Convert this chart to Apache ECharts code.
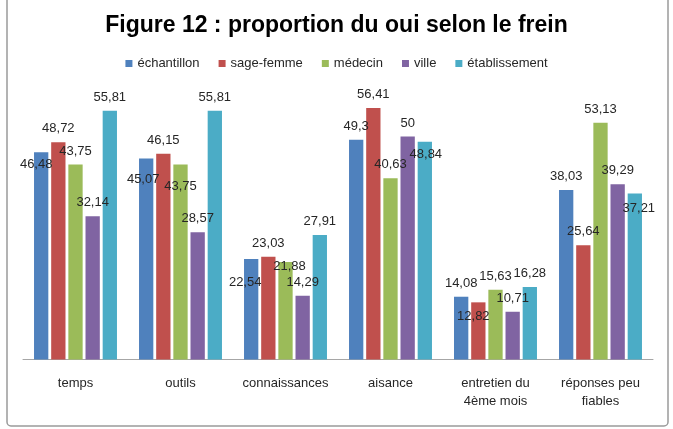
<!DOCTYPE html>
<html>
<head>
<meta charset="utf-8">
<script src="https://cdn.jsdelivr.net/npm/echarts@6/dist/echarts.min.js"></script>
<style>
html,body{margin:0;padding:0;background:#fff;}
#c{width:673px;height:429px;}
</style>
</head>
<body>
<div id="c"></div>
<script>
const categories = ['temps', 'outils', 'connaissances', 'aisance', 'entretien du\n4ème mois', 'réponses peu\nfiables'];
const seriesNames = ['échantillon', 'sage-femme', 'médecin', 'ville', 'établissement'];
const echantillon   = [46.48, 45.07, 22.54, 49.3, 14.08, 38.03];
const sageFemme     = [48.72, 46.15, 23.03, 56.41, 12.82, 25.64];
const medecin       = [43.75, 43.75, 21.88, 40.63, 15.63, 53.13];
const ville         = [32.14, 28.57, 14.29, 50, 10.71, 39.29];
const etablissement = [55.81, 55.81, 27.91, 48.84, 16.28, 37.21];
const seriesValues = [echantillon, sageFemme, medecin, ville, etablissement];

const colors = ['#4F81BD', '#C0504D', '#9BBB59', '#8064A2', '#4BACC6'];
// label nudges (series index, category index) -> [dx, dy] to mimic original label placement
const labelNudges = {
  '0-0': [-5, 26], '0-1': [-3, 34], '2-1': [0, 35], '0-2': [-6, 37],
  '2-2': [4, 18], '4-3': [1, 26], '1-4': [-5, 28], '4-5': [4, 28]
};

const fmt = v => String(v).replace('.', ',');

const series = seriesNames.map((name, si) => ({
  name: name,
  type: 'bar',
  barGap: '20%',
  barCategoryGap: '21%',
  itemStyle: { color: colors[si] },
  data: seriesValues[si].map((v, ci) => {
    const d = { value: v };
    const n = labelNudges[si + '-' + ci];
    if (n) d.label = { offset: n };
    return d;
  }),
  label: {
    show: true,
    position: 'top',
    distance: 7,
    fontFamily: 'Liberation Sans',
    fontSize: 13,
    color: '#262626',
    formatter: p => fmt(p.value)
  }
}));

const chart = echarts.init(document.getElementById('c'), null, { renderer: 'canvas' });
chart.setOption({
  animation: false,
  backgroundColor: '#fff',
  color: colors,
  title: {
    text: 'Figure 12 : proportion du oui selon le frein',
    left: 'center',
    top: 9,
    textStyle: { fontFamily: 'Liberation Sans', fontWeight: 'bold', fontSize: 23, color: '#000' }
  },
  legend: {
    top: 52,
    left: 'center',
    icon: 'rect',
    itemWidth: 7,
    itemHeight: 7,
    itemGap: 19,
    textStyle: { fontFamily: 'Liberation Sans', fontSize: 13, color: '#262626' },
    data: seriesNames
  },
  grid: { left: 23, right: 20, top: 92, bottom: 69.5, containLabel: false },
  xAxis: {
    type: 'category',
    data: categories,
    axisLine: { lineStyle: { color: '#A6A6A6', width: 1 } },
    axisTick: { show: false },
    axisLabel: {
      margin: 15,
      fontFamily: 'Liberation Sans',
      fontSize: 13,
      lineHeight: 18,
      color: '#262626',
      interval: 0
    }
  },
  yAxis: {
    type: 'value',
    min: 0,
    max: 60,
    show: false,
    splitLine: { show: false }
  },
  graphic: [{
    type: 'rect',
    shape: { x: 7, y: -10, width: 661, height: 436, r: 4 },
    style: { fill: null, stroke: '#9A9A9A', lineWidth: 1.5 },
    silent: true,
    z: 100
  }],
  series: series
});
</script>
</body>
</html>
